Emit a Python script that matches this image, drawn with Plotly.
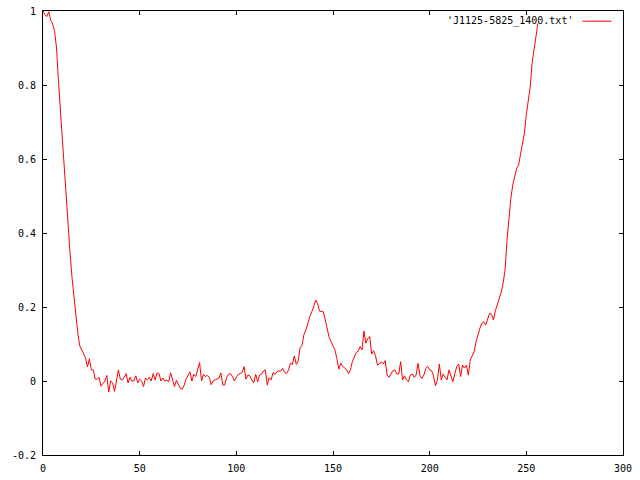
import plotly.graph_objects as go

series_name = "'J1125-5825_1400.txt'"

y_values = [
    1.000, 0.990, 0.985, 0.998, 0.975, 0.965, 0.945, 0.900, 0.810, 0.730,
    0.645, 0.570, 0.490, 0.410, 0.345, 0.280, 0.225, 0.180, 0.130, 0.095,
    0.082, 0.074, 0.062, 0.038, 0.060, 0.030, 0.030, 0.005, 0.005, 0.010,
    -0.014, -0.008, 0.000, 0.015, -0.030, 0.000, -0.005, -0.028, 0.008, 0.030,
    0.005, 0.003, 0.010, 0.020, -0.005, 0.010, 0.000, 0.000, 0.014, -0.005,
    0.005, 0.000, -0.015, 0.008, 0.003, 0.010, 0.000, 0.020, 0.003, 0.022,
    0.020, 0.000, 0.008, 0.000, 0.002, -0.002, 0.022, 0.000, -0.015, 0.002,
    -0.008, -0.020, -0.022, -0.012, 0.005, 0.015, 0.025, 0.000, 0.018, 0.012,
    0.035, 0.050, 0.000, 0.018, 0.012, 0.015, 0.010, -0.010, 0.000, 0.002,
    0.005, 0.008, 0.022, -0.011, -0.011, 0.010, 0.018, 0.020, 0.012, 0.000,
    0.010, 0.018, 0.020, 0.023, 0.039, 0.005, 0.016, 0.014, 0.003, -0.005,
    0.018, -0.002, 0.016, 0.018, 0.027, 0.030, -0.011, 0.009, 0.003, 0.023,
    0.018, 0.025, 0.027, 0.027, 0.034, 0.023, 0.020, 0.030, 0.048, 0.045,
    0.068, 0.045, 0.054, 0.090, 0.097, 0.126, 0.138, 0.160, 0.174, 0.187,
    0.200, 0.219, 0.210, 0.189, 0.187, 0.187, 0.165, 0.140, 0.118, 0.106,
    0.097, 0.084, 0.061, 0.032, 0.048, 0.039, 0.036, 0.030, 0.020, 0.030,
    0.052, 0.064, 0.077, 0.080, 0.093, 0.084, 0.135, 0.102, 0.115, 0.120,
    0.073, 0.082, 0.068, 0.043, 0.046, 0.052, 0.046, 0.055, 0.016, 0.010,
    0.018, 0.028, 0.030, 0.019, 0.019, 0.052, 0.003, 0.014, 0.003, -0.002,
    0.016, 0.019, 0.010, 0.016, 0.048, 0.014, 0.007, 0.016, 0.034, 0.039,
    0.030, 0.028, 0.014, -0.013, 0.003, 0.046, 0.003, 0.019, 0.010, 0.003,
    0.030, 0.016, -0.002, 0.019, 0.039, 0.046, 0.012, 0.043, 0.035, 0.043,
    0.016, 0.057, 0.070, 0.079, 0.106, 0.129, 0.143, 0.156, 0.160, 0.151,
    0.170, 0.183, 0.180, 0.165, 0.190, 0.205, 0.220, 0.240, 0.265, 0.300,
    0.380, 0.450, 0.494, 0.530, 0.555, 0.575, 0.584, 0.611, 0.640, 0.670,
    0.720, 0.760, 0.795, 0.860, 0.900, 0.935, 0.967,
]
x_values = list(range(len(y_values)))

x_ticks = [0, 50, 100, 150, 200, 250, 300]
x_tick_labels = ["0", "50", "100", "150", "200", "250", "300"]
y_ticks = [-0.2, 0, 0.2, 0.4, 0.6, 0.8, 1]
y_tick_labels = ["-0.2", "0", "0.2", "0.4", "0.6", "0.8", "1"]

FONT = dict(family="DejaVu Sans Mono", size=10, color="black")

fig = go.Figure()
fig.add_trace(go.Scatter(
    x=x_values, y=y_values, mode="lines",
    line=dict(color="#ff0000", width=1),
    name=series_name, showlegend=False, hoverinfo="skip",
))

axis_common = dict(
    showline=True, linecolor="black", linewidth=1, mirror="ticks",
    ticks="inside", ticklen=4, tickwidth=1, tickcolor="black",
    showgrid=False, zeroline=False, tickfont=FONT, automargin=False,
)

fig.update_xaxes(range=[0, 300], tickvals=x_ticks, ticktext=x_tick_labels,
                 ticklabelstandoff=4, **axis_common)
fig.update_yaxes(range=[-0.2, 1], tickvals=y_ticks, ticktext=y_tick_labels,
                 ticklabelstandoff=4, **axis_common)

# gnuplot-style key: text then line sample
fig.add_annotation(
    x=0.918, y=0.977, xref="paper", yref="paper",
    xanchor="right", yanchor="middle", showarrow=False,
    text=series_name, font=FONT,
)
fig.add_shape(type="line", xref="paper", yref="paper",
              x0=0.930, x1=0.980, y0=0.977, y1=0.977,
              line=dict(color="#ff0000", width=1))

fig.update_layout(
    width=640, height=480,
    margin=dict(l=43, r=17, t=11, b=25, autoexpand=False),
    paper_bgcolor="white", plot_bgcolor="white",
    font=FONT, hovermode=False,
)

fig.write_html(
    "out.html",
    config={"displayModeBar": False, "staticPlot": True},
    post_script="document.body.style.margin='0px';document.body.style.overflow='hidden';",
)
